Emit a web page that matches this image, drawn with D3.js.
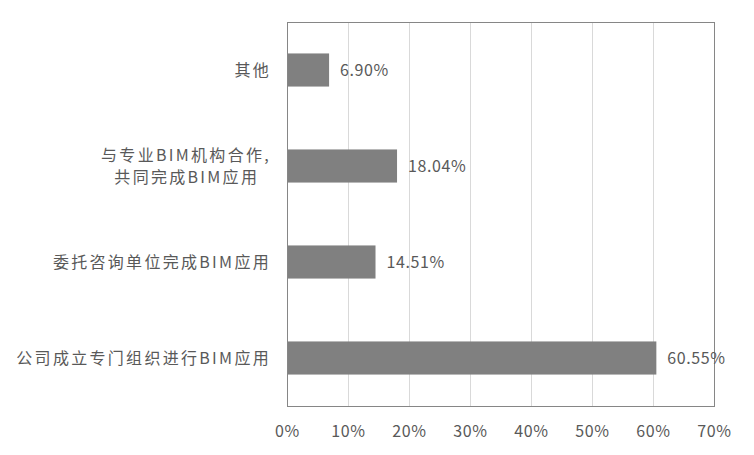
<!DOCTYPE html>
<html>
<head>
<meta charset="utf-8">
<script src="https://cdn.jsdelivr.net/npm/d3@7"></script>
<style>
  body { margin: 0; background: #fff; }
  text { font-family: "Noto Sans CJK SC", "Noto Sans", sans-serif; fill: #595959; }
</style>
</head>
<body>
<svg width="754" height="455"></svg>
<script>
// categories top to bottom, values in percent
var categories = ["其他", "与专业BIM机构合作,\n共同完成BIM应用\u00a0\u00a0", "委托咨询单位完成BIM应用", "公司成立专门组织进行BIM应用"];
var values = [6.90, 18.04, 14.51, 60.55];
var tickValues = [0, 10, 20, 30, 40, 50, 60, 70];

var svg = d3.select("svg"),
  margin = {top: 22, right: 40, bottom: 49, left: 287},
  width = +svg.attr("width") - margin.left - margin.right,
  height = +svg.attr("height") - margin.top - margin.bottom,
  g = svg.append("g")
    .attr("transform", "translate(" + margin.left + "," + margin.top + ")");

var x = d3.scaleLinear().domain([0, 70]).range([0, width]);
var y = d3.scaleBand().domain(categories).range([0, height])
  .paddingInner(0.655).paddingOuter(0.3275);

// vertical gridlines
g.append("g")
  .selectAll("line")
  .data(tickValues.slice(1, -1))
  .join("line")
  .attr("x1", function(d) { return x(d) + 0.5; })
  .attr("x2", function(d) { return x(d) + 0.5; })
  .attr("y1", 0)
  .attr("y2", height)
  .attr("stroke", "#d9d9d9")
  .attr("stroke-width", 1);

// plot area border
g.append("rect")
  .attr("x", 0.5)
  .attr("y", 0.5)
  .attr("width", width)
  .attr("height", height)
  .attr("fill", "none")
  .attr("stroke", "#868686")
  .attr("stroke-width", 1);

// bars
g.append("g")
  .selectAll("rect")
  .data(values)
  .join("rect")
  .attr("x", 1)
  .attr("y", function(d, i) { return y(categories[i]); })
  .attr("width", function(d) { return x(d) - 1; })
  .attr("height", y.bandwidth())
  .attr("fill", "#808080");

// value labels
g.append("g")
  .selectAll("text")
  .data(values)
  .join("text")
  .attr("x", function(d) { return x(d) + 11; })
  .attr("y", function(d, i) { return y(categories[i]) + y.bandwidth() / 2; })
  .attr("dy", "0.35em")
  .style("font-size", "16px")
  .style("letter-spacing", "0.6px")
  .text(function(d) { return d.toFixed(2) + "%"; });

// x axis labels
var xAxis = g.append("g")
  .attr("transform", "translate(0," + height + ")")
  .call(d3.axisBottom(x).tickValues(tickValues).tickSize(0).tickPadding(20)
    .tickFormat(function(d) { return d + "%"; }));
xAxis.select(".domain").remove();
xAxis.selectAll("text")
  .style("font-size", "16px")
  .style("letter-spacing", "0.6px")
  .style("font-family", "\"Noto Sans CJK SC\", sans-serif")
  .attr("fill", "#595959");

// category labels, one text per line
var lineGap = 22;
categories.forEach(function(cat) {
  var lines = cat.split("\n");
  var yc = y(cat) + y.bandwidth() / 2;
  lines.forEach(function(line, i) {
    g.append("text")
      .attr("x", -16)
      .attr("y", yc + (i - (lines.length - 1) / 2) * lineGap)
      .attr("dy", "0.35em")
      .attr("text-anchor", "end")
      .style("font-size", "16px")
      .style("letter-spacing", "2.3px")
      .style("white-space", "pre")
      .text(line);
  });
});
</script>
</body>
</html>
